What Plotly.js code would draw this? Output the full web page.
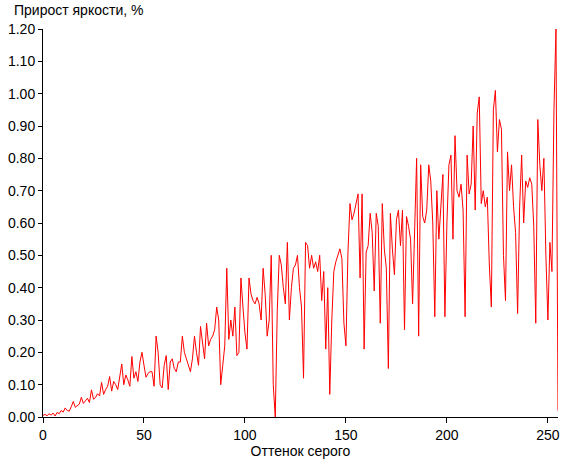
<!DOCTYPE html>
<html>
<head>
<meta charset="utf-8">
<script src="https://cdn.plot.ly/plotly-3.0.1.min.js"></script>
<style>html,body{margin:0;padding:0;background:#fff;}#chart{width:561px;height:469px;}</style>
</head>
<body>
<div id="chart"></div>
<script>
const chartTitle = "Прирост яркости, %";
const xAxisTitle = "Оттенок серого";
const xTickValues = [0, 50, 100, 150, 200, 250];
const yTickValues = [0, 0.1, 0.2, 0.3, 0.4, 0.5, 0.6, 0.7, 0.8, 0.9, 1.0, 1.1, 1.2];

// Brightness increment (%) for gray shades 0..255
const increment = [
  0.005, 0.008, 0.004, 0.010, 0.006, 0.012, 0.003, 0.014, 0.010, 0.020,
  0.015, 0.028, 0.020, 0.018, 0.032, 0.048, 0.030, 0.035, 0.040, 0.061,
  0.042, 0.050, 0.058, 0.045, 0.084, 0.055, 0.060, 0.072, 0.065, 0.107,
  0.070, 0.085, 0.095, 0.125, 0.080, 0.110, 0.100, 0.085, 0.120, 0.164,
  0.100, 0.130, 0.115, 0.095, 0.187, 0.120, 0.140, 0.110, 0.170, 0.200,
  0.160, 0.123, 0.135, 0.140, 0.140, 0.095, 0.250, 0.200, 0.100, 0.090,
  0.160, 0.190, 0.085, 0.170, 0.180, 0.150, 0.140, 0.170, 0.170, 0.250,
  0.200, 0.180, 0.160, 0.140, 0.180, 0.250, 0.200, 0.160, 0.280, 0.220,
  0.180, 0.290, 0.220, 0.240, 0.250, 0.270, 0.340, 0.300, 0.100, 0.160,
  0.220, 0.460, 0.240, 0.300, 0.250, 0.340, 0.190, 0.200, 0.430, 0.340,
  0.260, 0.210, 0.430, 0.380, 0.360, 0.350, 0.370, 0.350, 0.300, 0.460,
  0.380, 0.250, 0.300, 0.500, 0.100, 0.000, 0.330, 0.500, 0.470, 0.400,
  0.350, 0.540, 0.300, 0.400, 0.460, 0.470, 0.500, 0.400, 0.340, 0.120,
  0.540, 0.530, 0.460, 0.500, 0.460, 0.480, 0.450, 0.500, 0.360, 0.450,
  0.210, 0.400, 0.070, 0.300, 0.450, 0.480, 0.500, 0.520, 0.490, 0.290,
  0.220, 0.510, 0.660, 0.610, 0.630, 0.660, 0.690, 0.430, 0.690, 0.210,
  0.510, 0.530, 0.630, 0.570, 0.390, 0.630, 0.590, 0.290, 0.660, 0.520,
  0.460, 0.150, 0.630, 0.520, 0.440, 0.610, 0.640, 0.530, 0.640, 0.270,
  0.620, 0.590, 0.550, 0.350, 0.600, 0.800, 0.250, 0.780, 0.620, 0.600,
  0.640, 0.780, 0.730, 0.600, 0.310, 0.700, 0.550, 0.650, 0.750, 0.310,
  0.600, 0.780, 0.810, 0.550, 0.870, 0.700, 0.680, 0.720, 0.640, 0.310,
  0.810, 0.690, 0.720, 0.900, 0.640, 0.940, 0.990, 0.660, 0.700, 0.650,
  0.680, 0.470, 0.340, 0.950, 1.010, 0.820, 0.920, 0.890, 0.500, 0.360,
  0.820, 0.700, 0.780, 0.650, 0.570, 0.320, 0.650, 0.810, 0.600, 0.730,
  0.710, 0.740, 0.720, 0.590, 0.290, 0.920, 0.780, 0.700, 0.800, 0.500,
  0.300, 0.540, 0.450, 0.950, 1.200, 0.020
];
const shades = increment.map((_, i) => i);

const font = {family: "Liberation Sans, Arial, sans-serif", size: 14, color: "#000"};

Plotly.newPlot("chart", [{
  x: shades,
  y: increment,
  type: "scatter",
  mode: "lines",
  line: {color: "#ff0000", width: 1},
  hoverinfo: "skip"
}], {
  width: 561,
  height: 469,
  margin: {l: 43, r: 3, t: 29, b: 52},
  paper_bgcolor: "#fff",
  plot_bgcolor: "#fff",
  font: font,
  showlegend: false,
  title: {
    text: chartTitle,
    font: font,
    xref: "container", x: 14 / 561, xanchor: "left",
    yref: "container", y: 1 - 10 / 469, yanchor: "middle"
  },
  xaxis: {
    range: [0, 255],
    tickvals: xTickValues,
    ticktext: xTickValues.map(String),
    ticks: "outside", ticklen: 5, tickcolor: "#000", tickwidth: 1,
    showline: true, linecolor: "#000", linewidth: 1,
    showgrid: false, zeroline: false,
    tickfont: font,
    title: {text: xAxisTitle, font: font, standoff: 4}
  },
  yaxis: {
    range: [0, 1.2],
    tickvals: yTickValues,
    ticktext: yTickValues.map(v => v.toFixed(2)),
    ticks: "outside", ticklen: 4, tickcolor: "#000", tickwidth: 1,
    showline: true, linecolor: "#000", linewidth: 1,
    showgrid: false, zeroline: false,
    tickfont: font
  }
}, {staticPlot: true});
</script>
</body>
</html>
